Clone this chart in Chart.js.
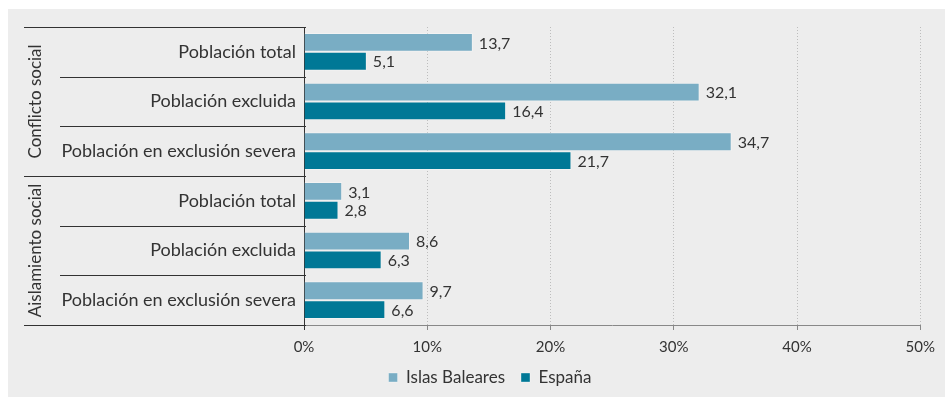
<!DOCTYPE html>
<html>
<head>
<meta charset="utf-8">
<script src="https://cdn.jsdelivr.net/npm/chart.js@4/dist/chart.umd.min.js"></script>
<style>
  html, body { margin: 0; padding: 0; background: #fff; }
  #wrap { position: relative; width: 945px; height: 397px; }
</style>
</head>
<body>
<div id="wrap"><canvas id="chart" width="945" height="397"></canvas></div>
<script>
const categories = [
  'Población total',
  'Población excluida',
  'Población en exclusión severa',
  'Población total',
  'Población excluida',
  'Población en exclusión severa'
];
const groups = [
  { label: 'Conflicto social', from: 0, to: 2 },
  { label: 'Aislamiento social', from: 3, to: 5 }
];
const seriesNames = ['Islas Baleares', 'España'];
const baleares = [13.7, 32.1, 34.7, 3.1, 8.6, 9.7];
const espana = [5.1, 16.4, 21.7, 2.8, 6.3, 6.6];
const xMin = 0;
const xMax = 50;
const xStep = 10;

const TEXT = '#333333';
const FONT = 'Lato, "Open Sans", sans-serif';

const formatValue = v => v.toFixed(1).replace('.', ',');

// grey panel behind everything
const panelPlugin = {
  id: 'panel',
  beforeDraw(chart) {
    const { ctx } = chart;
    ctx.save();
    ctx.fillStyle = '#ededed';
    ctx.fillRect(8, 9, chart.width - 8, chart.height - 9);
    ctx.restore();
  }
};

// row separators on the left plus the rotated group titles
const groupPlugin = {
  id: 'groups',
  afterDraw(chart) {
    const { ctx } = chart;
    const y = chart.scales.y;
    const x = chart.scales.x;
    const n = categories.length;
    const band = (y.bottom - y.top) / n;
    const groupEdges = new Set();
    groups.forEach(g => { groupEdges.add(g.from); groupEdges.add(g.to + 1); });

    ctx.save();
    ctx.strokeStyle = TEXT;
    ctx.lineWidth = 1;
    for (let i = 0; i <= n; i++) {
      const py = Math.round(y.top + band * i) + 0.5;
      ctx.beginPath();
      ctx.moveTo(groupEdges.has(i) ? 24 : 60, py);
      ctx.lineTo(x.left + 2, py);
      ctx.stroke();
    }
    // axis stub below the last row
    const ax = Math.round(x.left) + 0.5;
    ctx.beginPath();
    ctx.moveTo(ax, y.bottom);
    ctx.lineTo(ax, y.bottom + 5);
    ctx.stroke();

    ctx.fillStyle = TEXT;
    ctx.font = '17px ' + FONT;
    ctx.textAlign = 'center';
    ctx.textBaseline = 'middle';
    groups.forEach(g => {
      const cy = y.top + band * (g.from + g.to + 1) / 2;
      ctx.save();
      ctx.translate(36, cy);
      ctx.rotate(-Math.PI / 2);
      ctx.fillText(g.label, 0, 0);
      ctx.restore();
    });
    ctx.restore();
  }
};

// value printed just past the end of each bar
const valueLabelPlugin = {
  id: 'valueLabels',
  afterDatasetsDraw(chart) {
    const { ctx } = chart;
    ctx.save();
    ctx.fillStyle = TEXT;
    ctx.font = '16px ' + FONT;
    ctx.textAlign = 'left';
    ctx.textBaseline = 'middle';
    chart.data.datasets.forEach((ds, di) => {
      chart.getDatasetMeta(di).data.forEach((bar, i) => {
        ctx.fillText(formatValue(ds.data[i]), bar.x + 6, bar.y + 1);
      });
    });
    ctx.restore();
  }
};

const ctx = document.getElementById('chart').getContext('2d');

new Chart(ctx, {
  type: 'bar',
  data: {
    labels: categories,
    datasets: [
      {
        label: seriesNames[0],
        data: baleares,
        backgroundColor: '#79adc4',
        borderColor: 'rgba(255,255,255,0.35)',
        borderWidth: 1
      },
      {
        label: seriesNames[1],
        data: espana,
        backgroundColor: '#007896',
        borderColor: 'rgba(255,255,255,0.35)',
        borderWidth: 1
      }
    ]
  },
  options: {
    indexAxis: 'y',
    responsive: false,
    animation: false,
    categoryPercentage: 0.76,
    barPercentage: 1.0,
    layout: {
      padding: { left: 56, right: 21, top: 27, bottom: 1 }
    },
    scales: {
      x: {
        min: xMin,
        max: xMax,
        ticks: {
          stepSize: xStep,
          color: TEXT,
          font: { family: FONT, size: 15, lineHeight: 1 },
          padding: 10,
          callback: v => v + '%'
        },
        grid: {
          color: '#bdbdbd',
          tickColor: '#888888',
          tickLength: 5
        },
        border: {
          color: '#888888',
          dash: [1, 2]
        },
        afterFit(scale) {
          scale.height = 28;
        }
      },
      y: {
        ticks: {
          color: TEXT,
          font: { family: FONT, size: 18 },
          padding: 8
        },
        grid: {
          display: false,
          drawTicks: false
        },
        border: {
          color: TEXT,
          width: 1
        },
        afterFit(scale) {
          scale.width = 248;
        }
      }
    },
    plugins: {
      legend: {
        position: 'bottom',
        labels: {
          color: TEXT,
          font: { family: FONT, size: 17 },
          boxWidth: 9,
          boxHeight: 9,
          padding: 16
        }
      },
      tooltip: {
        enabled: false
      }
    }
  },
  plugins: [panelPlugin, groupPlugin, valueLabelPlugin]
});
</script>
</body>
</html>
